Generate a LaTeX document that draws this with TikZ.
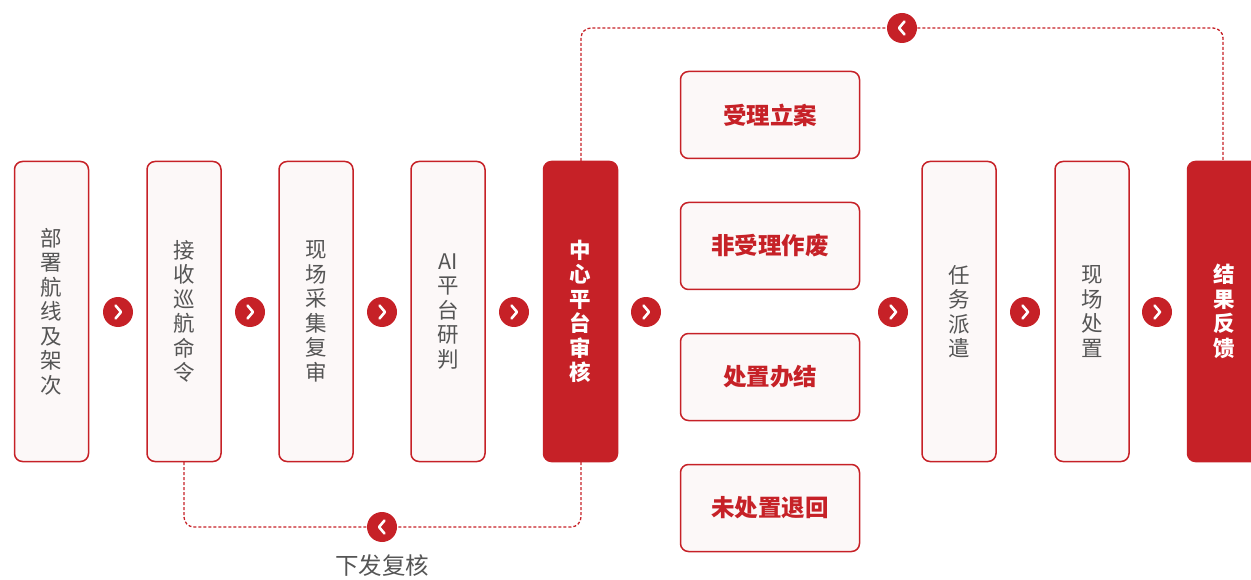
\documentclass[tikz,border=0pt]{standalone}
\usepackage{fontspec}
\newfontfamily\cjk{Noto Sans CJK SC}
\definecolor{myred}{HTML}{C62127}
\definecolor{boxfill}{HTML}{FCF8F8}
\definecolor{txtgray}{HTML}{555555}
\newcommand\fwdchev[1]{\draw[white,line width=2.6pt,line cap=round,line join=round] ([shift={(-2.5,-6.5)}]#1.center) -- ([shift={(3,0)}]#1.center) -- ([shift={(-2.5,6.5)}]#1.center);}
\newcommand\backchev[1]{\draw[white,line width=2.6pt,line cap=round,line join=round] ([shift={(2.5,-6.5)}]#1.center) -- ([shift={(-3,0)}]#1.center) -- ([shift={(2.5,6.5)}]#1.center);}
\begin{document}
\begin{tikzpicture}[x=1pt,y=-1pt,
  tallbox/.style={draw=myred, line width=1.5pt, fill=boxfill, rounded corners=8pt, minimum width=74pt, minimum height=300pt, inner sep=0pt, font=\cjk\fontsize{21.5}{24.5}\selectfont, text=txtgray, align=center},
  darkbox/.style={tallbox, fill=myred, text=white, font=\cjk\bfseries\fontsize{21.5}{24.5}\selectfont},
  widebox/.style={draw=myred, line width=1.5pt, fill=boxfill, rounded corners=8pt, minimum width=179pt, minimum height=87pt, inner sep=0pt, font=\cjk\bfseries\fontsize{23.5}{24}\selectfont, text=myred},
  chev/.style={circle, fill=myred, minimum size=30pt, inner sep=0pt},
  link/.style={draw=myred, line width=1.3pt, dash pattern=on 3pt off 2pt, rounded corners=10pt},
  lbl/.style={font=\cjk\fontsize{23.5}{24}\selectfont, text=txtgray}]
\useasboundingbox (0,0) rectangle (1251,580);
\clip (0,0) rectangle (1251,580);
% dashed feedback links
\draw[link] (581,161) -- (581,28) -- (1223,28) -- (1223,161);
\draw[link] (184,462) -- (184,527) -- (581,527) -- (581,462);
% tall boxes
\node[tallbox] (b1) at (51.5,311.5) {部\\署\\航\\线\\及\\架\\次};
\node[tallbox] (b2) at (184,311.5) {接\\收\\巡\\航\\命\\令};
\node[tallbox] (b3) at (316,311.5) {现\\场\\采\\集\\复\\审};
\node[tallbox] (b4) at (448,311.5) {AI\\平\\台\\研\\判};
\node[darkbox] (b5) at (580.5,311.5) {中\\心\\平\\台\\审\\核};
\node[tallbox] (b6) at (959,311.5) {任\\务\\派\\遣};
\node[tallbox] (b7) at (1092,311.5) {现\\场\\处\\置};
\node[darkbox] (b8) at (1224.5,311.5) {结\\果\\反\\馈};
% wide boxes
\node[widebox] (w1) at (770,115) {受理立案};
\node[widebox] (w2) at (770,246) {非受理作废};
\node[widebox] (w3) at (770,377) {处置办结};
\node[widebox] (w4) at (770,508) {未处置退回};
% forward chevrons
\node[chev] (c1) at (118,312) {}; \fwdchev{c1}
\node[chev] (c2) at (250,312) {}; \fwdchev{c2}
\node[chev] (c3) at (382,312) {}; \fwdchev{c3}
\node[chev] (c4) at (514,312) {}; \fwdchev{c4}
\node[chev] (c5) at (646,312) {}; \fwdchev{c5}
\node[chev] (c6) at (893,312) {}; \fwdchev{c6}
\node[chev] (c7) at (1025,312) {}; \fwdchev{c7}
\node[chev] (c8) at (1157,312) {}; \fwdchev{c8}
% back chevrons
\node[chev] (t1) at (902,28) {}; \backchev{t1}
\node[chev] (t2) at (382,527) {}; \backchev{t2}
\node[lbl] (l1) at (382,566) {下发复核};
\end{tikzpicture}
\end{document}
